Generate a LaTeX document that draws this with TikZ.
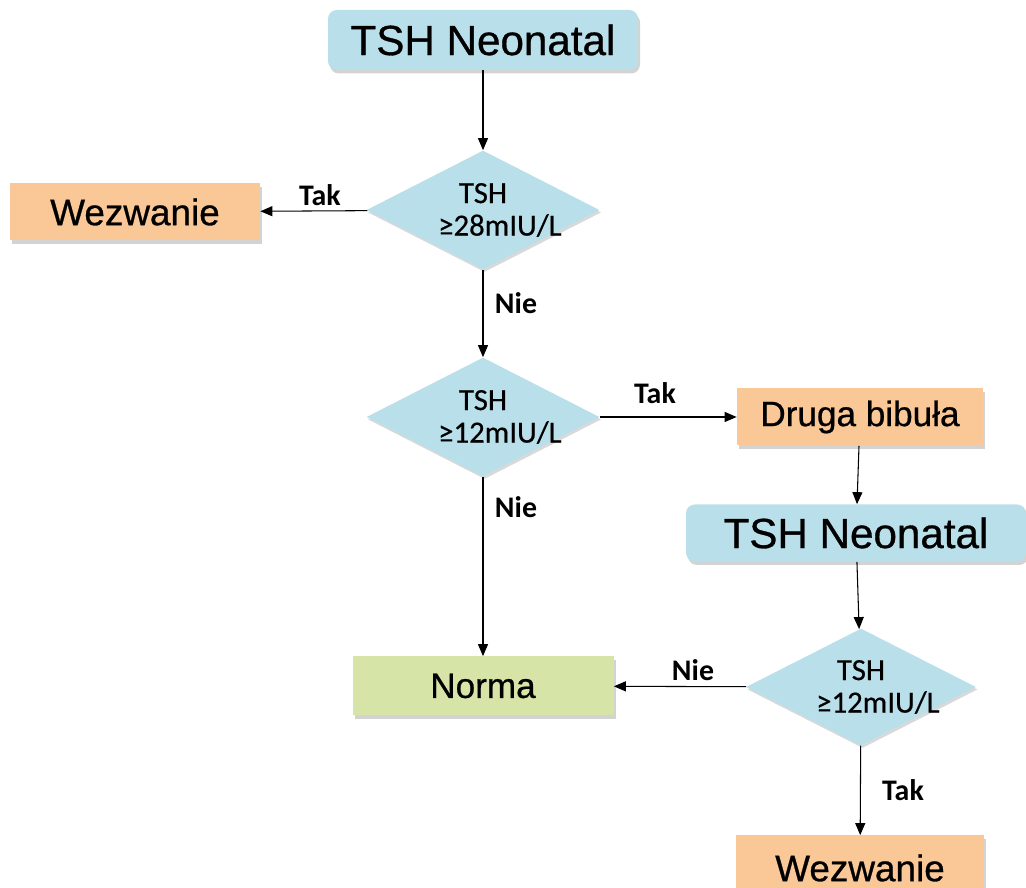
\documentclass[tikz,border=0pt]{standalone}
\usepackage{fontspec}
\setmainfont{Liberation Sans}
\newfontfamily\boxfont{Liberation Sans}[FakeBold=0.7]
\newfontfamily\labelfont{Carlito}
\newfontfamily\testfont{Carlito}[FakeBold=0.5]
\usetikzlibrary{arrows.meta,shapes.geometric,shadows}

\definecolor{tshblue}{RGB}{185,224,234}
\definecolor{callorange}{RGB}{250,199,150}
\definecolor{normgreen}{RGB}{214,228,167}

\tikzset{
  box/.style={draw=none,inner sep=0pt,minimum height=1.14cm,
    drop shadow={opacity=0.35,shadow xshift=0.04cm,shadow yshift=-0.07cm}},
  tshbox/.style={box,fill=tshblue,rounded corners=5pt,minimum height=1.2cm,
    font=\boxfont\fontsize{24}{28}\selectfont},
  callbox/.style={box,fill=callorange,font=\boxfont\fontsize{21}{24}\selectfont},
  normbox/.style={box,fill=normgreen,font=\boxfont\fontsize{20}{24}\selectfont},
  test/.style={diamond,fill=tshblue,inner sep=-8pt,aspect=1.97,
    minimum width=4.66cm,minimum height=2.38cm,align=center,
    font=\testfont\fontsize{17.5}{18.5}\selectfont,
    drop shadow={opacity=0.3,shadow xshift=0.03cm,shadow yshift=-0.05cm}},
  answer/.style={font=\labelfont\bfseries\fontsize{17}{20}\selectfont},
  arr/.style={-{Triangle[length=0.24cm,width=0.2cm]},semithick}
}

\begin{document}
\begin{tikzpicture}
\useasboundingbox (0,0) rectangle (20.52,17.76);

\node[tshbox,minimum width=6.2cm] (top1) at (9.66,16.96) {TSH Neonatal};
\node[test] (d1) at (9.66,13.56) {TSH\\ \hspace*{1.1em}≥28mIU/L};
\node[callbox,minimum width=5cm] (wez1) at (2.7,13.52) {Wezwanie};
\node[test] (d2) at (9.66,9.42) {TSH\\ \hspace*{1.1em}≥12mIU/L};
\node[callbox,minimum width=4.92cm,font=\boxfont\fontsize{20}{24}\selectfont] (druga) at (17.2,9.42) {Druga bibuła};
\node[tshbox,minimum width=6.8cm,minimum height=1.14cm] (top2) at (17.12,7.1) {TSH Neonatal};
\node[test,minimum width=4.6cm,minimum height=2.34cm] (d3) at (17.22,4.02) {TSH\\ \hspace*{1.1em}≥12mIU/L};
\node[normbox,minimum width=5.22cm,minimum height=1.18cm] (norma) at (9.66,4.04) {Norma};
\node[callbox,minimum width=4.96cm,minimum height=1.3cm] (wez2) at (17.2,0.4) {Wezwanie};

\draw[arr] (top1) -- (d1);
\draw[arr] (d1) -- (wez1);
\draw[arr] (d1) -- (d2);
\draw[arr] (d2) -- (druga);
\draw[arr] (d2) -- (norma);
\draw[arr] (druga) -- (top2);
\draw[arr] (top2) -- (d3);
\draw[arr] (d3) -- (norma);
\draw[arr] (d3) -- (wez2);

\node[answer] (tak1) at (6.4,13.86) {Tak};
\node[answer] (nie1) at (10.32,11.7) {Nie};
\node[answer] (tak2) at (13.1,9.9) {Tak};
\node[answer] (nie2) at (10.32,7.62) {Nie};
\node[answer] (nie3) at (13.86,4.36) {Nie};
\node[answer] (tak3) at (18.06,1.96) {Tak};
\end{tikzpicture}
\end{document}
